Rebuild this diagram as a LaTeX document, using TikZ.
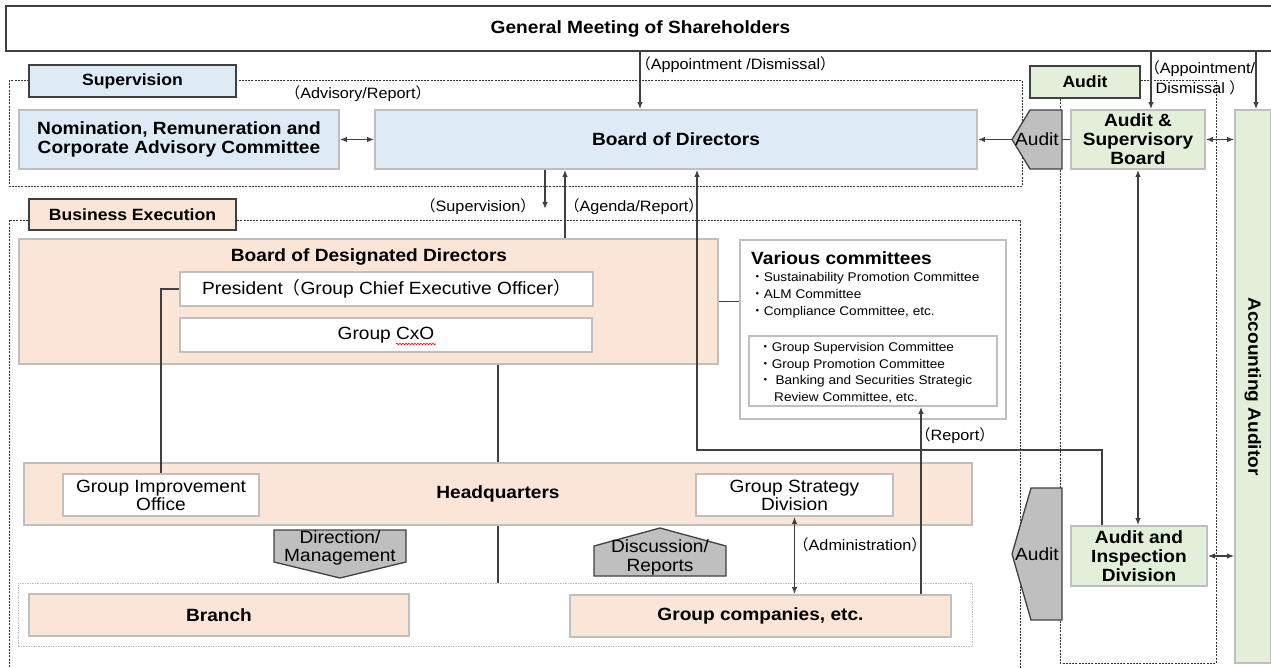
\documentclass[tikz,border=0pt]{standalone}
\usepackage{fontspec}
\setmainfont{Liberation Sans}[FakeStretch=1.08]
\newfontfamily\cjk{Noto Sans CJK JP}
\usetikzlibrary{arrows.meta,decorations.pathmorphing}
\definecolor{supblue}{HTML}{DEEBF7}
\definecolor{exepeach}{HTML}{FBE5D6}
\definecolor{audgreen}{HTML}{E2F0D9}
\definecolor{boxline}{HTML}{BFBFBF}
\definecolor{darkline}{HTML}{404040}
\newcommand{\jlp}{{\cjk （}}
\newcommand{\jrp}{{\cjk ）}}
\newcommand{\jdot}{{\cjk ・}}
\newcommand{\orgbf}{\fontsize{17.7pt}{19pt}\selectfont\bfseries}
\newcommand{\orgrm}{\fontsize{17.7pt}{18pt}\selectfont}
\newcommand{\orgtag}{\fontsize{16.3pt}{18pt}\selectfont\bfseries}
\newcommand{\orgnote}{\fontsize{15pt}{20pt}\selectfont}
\newcommand{\orgitem}{\fontsize{12.6pt}{16.7pt}\selectfont}

\begin{document}
\begin{tikzpicture}[x=1pt,y=-1pt]
    \tikzset{>={Latex[length=7pt,width=5.5pt]},
      box/.style={draw=boxline,line width=1.8pt,align=center,inner sep=2pt,font=\orgbf},
      bluebox/.style={box,fill=supblue},
      peachbox/.style={box,fill=exepeach},
      greenbox/.style={box,fill=audgreen},
      whitebox/.style={box,fill=white,font=\orgrm},
      tagbox/.style={draw=darkline,line width=1.3pt,font=\orgtag},
      region/.style={draw=black!80,line width=0.8pt,dash pattern=on 2pt off 1.2pt},
      pent/.style={fill=boxline,draw=darkline,line width=1.3pt},
      note/.style={font=\orgnote,inner sep=1pt},
      conn/.style={draw=darkline,line width=1.3pt},
      arr/.style={conn,->},
      dbl/.style={conn,<->}}
  \useasboundingbox (0,0) rectangle (1271,668);
  \fill[white] (0,0) rectangle (1271,668);
  \draw[region] (9,80) rectangle (1022,186);
  \draw[region] (1020,668) -- (1020,220) -- (9,220) -- (9,668);
  \draw[region] (1060,80) rectangle (1216,663);
  \node[draw=black!25,line width=0.8pt,dash pattern=on 1.5pt off 1pt,minimum width=954,minimum height=63] (grp) at (495,614.5) {};

  \node[draw=darkline,line width=1.3pt,fill=white,font=\orgbf,minimum width=1269,minimum height=45] (gms) at (640.5,28.5) {General Meeting of Shareholders};
  \node[tagbox,fill=supblue,minimum width=207,minimum height=32] (suptag) at (132.5,81) {Supervision};
  \node[tagbox,fill=exepeach,minimum width=207,minimum height=31] (exetag) at (132.5,214.5) {Business Execution};
  \node[tagbox,fill=audgreen,minimum width=110,minimum height=32] (audtag) at (1085,82) {Audit};

  \node[bluebox,minimum width=320,minimum height=59] (nom) at (179,139.5) {Nomination, Remuneration and\\Corporate Advisory Committee};
  \node[bluebox,minimum width=602,minimum height=59] (bod) at (676,139.5) {Board of Directors};
  \node[greenbox,minimum width=134,minimum height=59] (asb) at (1138,139.5) {Audit \&\\Supervisory\\Board};
  \node[greenbox,minimum width=136,minimum height=60] (aid) at (1139,556) {Audit and\\Inspection\\Division};
  \node[greenbox,rotate=-90,minimum width=553,minimum height=36] (aa) at (1253,386.5) {Accounting Auditor};

  \node[peachbox,minimum width=699,minimum height=125] (bdd) at (368.5,301.5) {};
  \node[font=\orgbf] (bddt) at (369,257) {Board of Designated Directors};
  \node[whitebox,minimum width=413,minimum height=34] (pres) at (386.5,289) {President\jlp Group Chief Executive Officer\jrp};
  \node[whitebox,minimum width=412,minimum height=34] (cxo) at (386,335) {Group CxO};
  \draw[red,line width=0.6pt,decorate,decoration={snake,amplitude=0.8pt,segment length=3pt}] ([xshift=10,yshift=-9]cxo.center) -- ([xshift=50,yshift=-9]cxo.center);

  \node[draw=boxline,line width=1.8pt,fill=white,minimum width=266,minimum height=179] (vc) at (873,329.5) {};
  \node[font=\orgbf,anchor=west,inner sep=0pt] (vct) at (751,258) {Various committees};
  \node[font=\orgitem,align=left,anchor=north west,inner sep=0pt] (vci) at (751,272.5) {\jdot Sustainability Promotion Committee\\\jdot ALM Committee\\\jdot Compliance Committee, etc.};
  \node[draw=boxline,line width=1.8pt,fill=white,minimum width=248,minimum height=70] (ib) at (873,371) {};
  \node[font=\orgitem,align=left,anchor=north west,inner sep=0pt] (ibi) at (759,342) {\jdot Group Supervision Committee\\\jdot Group Promotion Committee\\\jdot\ Banking and Securities Strategic\\\hspace*{15pt}Review Committee, etc.};

  \node[peachbox,minimum width=948,minimum height=62] (hq) at (498,494) {Headquarters};
  \node[whitebox,minimum width=196,minimum height=42] (gio) at (161,495) {Group Improvement\\Office};
  \node[whitebox,minimum width=197,minimum height=42] (gsd) at (794.5,495) {Group Strategy\\Division};
  \node[peachbox,minimum width=380,minimum height=42] (br) at (219,615) {Branch};
  \node[peachbox,minimum width=381,minimum height=42] (gc) at (760.5,616) {Group companies, etc.};

  \draw[pent] (274,530) -- (406,530) -- (406,562) -- (340,578) -- (274,562) -- cycle;
  \node[font=\orgrm,align=center,inner sep=0pt] (dm) at (340,548) {Direction/\\Management};
  \draw[pent] (594,546) -- (660,528) -- (726,546) -- (726,576) -- (594,576) -- cycle;
  \node[font=\fontsize{17.7pt}{19pt}\selectfont,align=center,inner sep=0pt] (dr) at (660,557) {Discussion/\\Reports};
  \draw[pent] (1062,110) -- (1030,110) -- (1012,139.5) -- (1030,169) -- (1062,169) -- cycle;
  \node[font=\orgrm,inner sep=0pt,minimum width=50,minimum height=59] (aud1) at (1037,139.5) {Audit};
  \draw[pent] (1062,488) -- (1031,488) -- (1012,554) -- (1031,620) -- (1062,620) -- cycle;
  \node[font=\orgrm,inner sep=0pt,minimum width=50,minimum height=132] (aud2) at (1037,554) {Audit};

  \path ([xshift=-36]bod.north) coordinate (bodtop)
        ([xshift=-131]bod.south) coordinate (bodsup)
        ([xshift=21]bod.south) coordinate (bodaud)
        ([xshift=196.5]bdd.north) coordinate (bddrep)
        ([xshift=13]asb.north) coordinate (asbtop)
        ([xshift=3]aa.west) coordinate (aatop)
        ([xshift=-37]aid.north) coordinate (aidrep)
        ([xshift=160.5]gc.north) coordinate (gcrep);
  \coordinate (supend) at (545,209);

  \draw[arr] (bodtop |- gms.south) -- (bodtop);
  \draw[arr] (asbtop |- gms.south) -- (asbtop);
  \draw[arr] (aatop |- gms.south) -- (aatop);
  \draw[dbl] (nom) -- (bod);
  \draw[arr] (bodsup) -- (supend);
  \draw[arr] (bddrep) -- (bddrep |- bod.south);
  \draw[conn] (bdd.east) -- (bdd.east -| vc.west);
  \draw[conn] (pres.west) -| (gio.north);
  \draw[conn] (hq.north |- bdd.south) -- (hq.north);
  \draw[conn] (hq.south) -- (hq.south |- grp.north);
  \draw[dbl] (gsd.south) -- (gsd.south |- gc.north);
  \draw[arr] (gcrep) -- (gcrep |- ib.south);
  \draw[arr] (aidrep) -- ++(0,-75) -| (bodaud);
  \draw[arr] (aud1.west) -- (bod.east);
  \draw[conn] (aud1.east) -- (asb.west);
  \draw[dbl] (asb.east) -- (asb.east -| aa.south);
  \draw[dbl] (asb.south) -- (asb.south |- aid.north);
  \draw[dbl] (aid.east) -- (aid.east -| aa.south);

  \node[note] (advlbl) at (358,94) {\jlp Advisory/Report\jrp};
  \node[note] (apdlbl) at (735.5,65) {\jlp Appointment /Dismissal\jrp};
  \node[note] (suplbl) at (478,207) {\jlp Supervision\jrp};
  \node[note] (agdlbl) at (634,207) {\jlp Agenda/Report\jrp};
  \node[note] (admlbl) at (860,545) {\jlp Administration\jrp};
  \node[note] (replbl) at (955,436) {\jlp Report\jrp};
  \node[note,align=center] (aplbl) at (1200,78) {\jlp Appointment/\\Dismissal \jrp};
\end{tikzpicture}
\end{document}
